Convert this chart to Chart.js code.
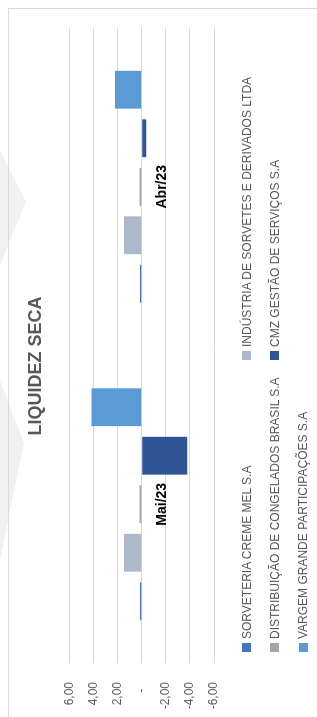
<!DOCTYPE html>
<html>
<head>
<meta charset="utf-8">
<script src="https://cdn.jsdelivr.net/npm/chart.js@4.4.0/dist/chart.umd.min.js"></script>
<style>
  html, body { margin: 0; padding: 0; width: 317px; height: 717px; overflow: hidden; background: #fff; }
  /* faint watermark pieces at the left edge */
  .wm { position: absolute; left: 0; width: 26px; background: #f1f1f1; }
  #wm1 { top: 150px; height: 115px; clip-path: polygon(0 0, 100% 45%, 0 100%); }
  #wm2 { top: 380px; height: 180px; clip-path: polygon(0 0, 92% 35%, 0 100%); }
  /* chart is built in landscape and turned a quarter turn to the left */
  #rot { position: absolute; left: 0; top: 0; width: 717px; height: 317px; transform-origin: 0 0; transform: translate(0, 717px) rotate(-90deg); }
  #frame { position: absolute; left: -10px; top: 8px; width: 719px; height: 320px; border-top: 1px solid #d9d9d9; border-right: 1px solid #d9d9d9; box-sizing: border-box; }
  #myChart { position: absolute; left: -6px; top: 8px; }
  .lg { position: absolute; font: 12px "Liberation Sans", Arial, sans-serif; color: #595959; white-space: nowrap; line-height: 12px; }
  .lg i { position: absolute; left: 0; top: 1.5px; width: 9px; height: 9px; }
  .lg span { position: absolute; left: 13px; top: 0; }
</style>
</head>
<body>
<div class="wm" id="wm1"></div>
<div class="wm" id="wm2"></div>
<div id="rot">
  <div id="frame"></div>
  <canvas id="myChart" width="714" height="309"></canvas>
  <div id="legend"></div>
</div>
<script>
const categories = ['Mai/23', 'Abr/23'];
const seriesNames = [
  'SORVETERIA CREME MEL S.A',
  'INDÚSTRIA DE SORVETES E DERIVADOS LTDA',
  'DISTRIBUIÇÃO DE CONGELADOS BRASIL S.A',
  'CMZ GESTÃO DE SERVIÇOS S.A',
  'VARGEM GRANDE PARTICIPAÇÕES S.A'
];
const sorveteria = [0.15, 0.15];
const industria = [1.47, 1.47];
const distribuicao = [0.2, 0.2];
const cmz = [-3.78, -0.37];
const vargem = [4.19, 2.22];
const seriesValues = [sorveteria, industria, distribuicao, cmz, vargem];
const seriesColors = ['#4472C4', '#ADB9CA', '#A5A5A5', '#2F5597', '#5B9BD5'];

Chart.defaults.font.family = '"Liberation Sans", Arial, sans-serif';
Chart.defaults.color = '#595959';

const data = {
  labels: categories,
  datasets: seriesNames.map((name, i) => ({
    label: name,
    data: seriesValues[i],
    backgroundColor: seriesColors[i],
    borderWidth: 0,
    categoryPercentage: 0.764,
    barPercentage: 0.78
  }))
};

// title is centred on the whole chart box, not on the padded part
const titleFullWidth = {
  id: 'titleFullWidth',
  afterLayout(chart) {
    if (chart.titleBlock) {
      chart.titleBlock.left = 0;
      chart.titleBlock.right = chart.width;
    }
  }
};

const config = {
  type: 'bar',
  data,
  plugins: [titleFullWidth],
  options: {
    responsive: false,
    animation: false,
    layout: { padding: { left: 0, right: 19, top: 0, bottom: 103 } },
    plugins: {
      legend: { display: false },
      tooltip: { enabled: false },
      title: {
        display: true,
        text: 'LIQUIDEZ SECA',
        color: '#595959',
        font: { size: 18, weight: 'bold' },
        padding: { top: 17, bottom: 23 }
      }
    },
    scales: {
      x: {
        position: { y: 0 },
        grid: { display: false },
        border: { display: true, color: '#d9d9d9', width: 1 },
        ticks: { color: '#000', font: { size: 14, weight: 'bold' }, padding: 4, maxRotation: 0 }
      },
      y: {
        min: -6,
        max: 6,
        afterFit: (scale) => { scale.width = 60; },
        grid: { color: '#d9d9d9', lineWidth: 1, drawTicks: false },
        border: { display: false },
        ticks: {
          stepSize: 2,
          padding: 19,
          font: { size: 12 },
          callback: (v) => v === 0 ? '-  ' : v.toFixed(2).replace('.', ',')
        }
      }
    }
  }
};

const myChart = new Chart(document.getElementById('myChart'), config);

// legend laid out as a two-column grid like the spreadsheet one
const legendBox = document.getElementById('legend');
const colX = [65, 357];
const rowY = [246.5, 274.5, 303];
seriesNames.forEach((name, i) => {
  const d = document.createElement('div');
  d.className = 'lg';
  d.style.left = colX[i % 2] + 'px';
  d.style.top = (rowY[Math.floor(i / 2)] - 6) + 'px';
  d.innerHTML = '<i style="background:' + seriesColors[i] + '"></i><span></span>';
  d.querySelector('span').textContent = name;
  legendBox.appendChild(d);
});
</script>
</body>
</html>
